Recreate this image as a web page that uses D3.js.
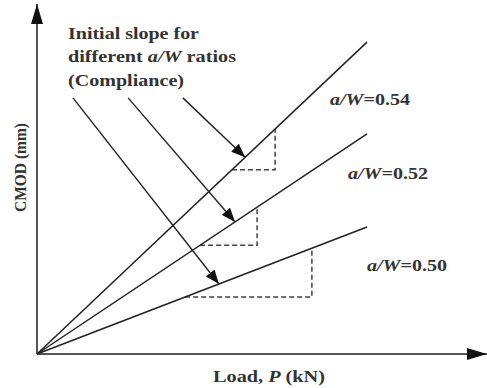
<!DOCTYPE html>
<html><head><meta charset="utf-8">
<script src="https://cdn.jsdelivr.net/npm/d3@7"></script>
<style>body{margin:0;background:#fff}svg{display:block}</style>
</head><body>
<script>
// ---- data ----
const ratios = ["0.54", "0.52", "0.50"];
const slopes = [0.945, 0.667, 0.385];          // CMOD per unit load (arbitrary units)
const lineEnd = [8.8, 8.8, 8.8];               // load at which each line ends
const triStart = [5.2, 4.35, 3.95];            // slope-triangle horizontal start (load)
const triEnd = [6.35, 5.87, 7.33];             // slope-triangle vertical leg (load)
const arrowStartX = [3.89, 2.43, 0.96];        // annotation arrow tails (load)
const arrowStartY = [6.83, 6.83, 6.83];        // annotation arrow tails (CMOD)
const arrowTipX = [5.55, 5.28, 4.85];          // arrow tips on each line (load)
const annotationLines = ["Initial slope for", "different |a/W| ratios", "(Compliance)"];
const xLabel = "Load, |P| (kN)";
const yLabel = "CMOD (mm)";

const W = 487, H = 388;
const x = d3.scaleLinear().domain([0, 12]).range([37, 487]);
const y = d3.scaleLinear().domain([0, 350/37.5]).range([354, 4]);

const svg = d3.select("body").append("svg").attr("width", W).attr("height", H);
const defs = svg.append("defs");
defs.append("marker").attr("id","ah").attr("viewBox","0 0 10 10").attr("refX",10).attr("refY",5)
  .attr("markerWidth",14).attr("markerHeight",11).attr("markerUnits","userSpaceOnUse").attr("orient","auto")
  .attr("preserveAspectRatio","none")
  .append("path").attr("d","M0,0 L10,5 L0,10 z").attr("fill","#111");
defs.append("marker").attr("id","axh").attr("viewBox","0 0 20 12").attr("refX",20).attr("refY",6)
  .attr("markerWidth",20).attr("markerHeight",12).attr("markerUnits","userSpaceOnUse").attr("orient","auto")
  .append("path").attr("d","M0,0 L20,6 L0,12 z").attr("fill","#111");

const font = "Liberation Serif";
function richText(g, str, len) {
  const t = g.append("text").attr("font-family", font).attr("font-weight","bold")
    .attr("font-size", 17).attr("fill","#333")
    .attr("textLength", len).attr("lengthAdjust","spacingAndGlyphs");
  str.split("|").forEach((s, i) => {
    t.append("tspan").attr("font-style", i % 2 ? "italic" : "normal").text(s);
  });
  return t;
}

// axes
svg.append("line").attr("x1", x(0)).attr("y1", y(0)).attr("x2", x(0)).attr("y2", 4)
  .attr("stroke","#555").attr("stroke-width",2).attr("marker-end","url(#axh)");
svg.append("line").attr("x1", x(0)).attr("y1", y(0)).attr("x2", 487).attr("y2", y(0))
  .attr("stroke","#555").attr("stroke-width",2).attr("marker-end","url(#axh)");

// dashed slope triangles
ratios.forEach((r, i) => {
  const pts = [[triStart[i], slopes[i]*triStart[i]], [triEnd[i], slopes[i]*triStart[i]], [triEnd[i], slopes[i]*triEnd[i]]];
  svg.append("path").attr("d", d3.line().x(d => x(d[0])).y(d => y(d[1]))(pts))
    .attr("fill","none").attr("stroke","#444").attr("stroke-width",1.5).attr("stroke-dasharray","5,3");
});

// lines
ratios.forEach((r, i) => {
  svg.append("line").attr("x1", x(0)).attr("y1", y(0)).attr("x2", x(lineEnd[i])).attr("y2", y(slopes[i]*lineEnd[i]))
    .attr("stroke","#222").attr("stroke-width",1.5);
});

// arrows
ratios.forEach((r, i) => {
  svg.append("line").attr("x1", x(arrowStartX[i])).attr("y1", y(arrowStartY[i]))
    .attr("x2", x(arrowTipX[i])).attr("y2", y(slopes[i]*arrowTipX[i]))
    .attr("stroke","#222").attr("stroke-width",1.4).attr("marker-end","url(#ah)");
});

// annotation
const annBase = [39, 62, 86], annLen = [131, 168, 116];
annotationLines.forEach((s, i) => {
  const g = svg.append("g").attr("transform", `translate(68,${annBase[i]})`);
  richText(g, s, annLen[i]);
});

// ratio labels
const labX = [330, 348, 367], labY = [105, 179, 271];
ratios.forEach((r, i) => {
  const g = svg.append("g").attr("transform", `translate(${labX[i]},${labY[i]})`);
  richText(g, "|a/W|=" + r, 80);
});

// axis labels
const gx = svg.append("g").attr("transform", `translate(213,382)`);
richText(gx, xLabel, 112);
const gy = svg.append("g").attr("transform", `translate(26,212) rotate(-90)`);
richText(gy, yLabel, 89);
</script>
</body></html>
